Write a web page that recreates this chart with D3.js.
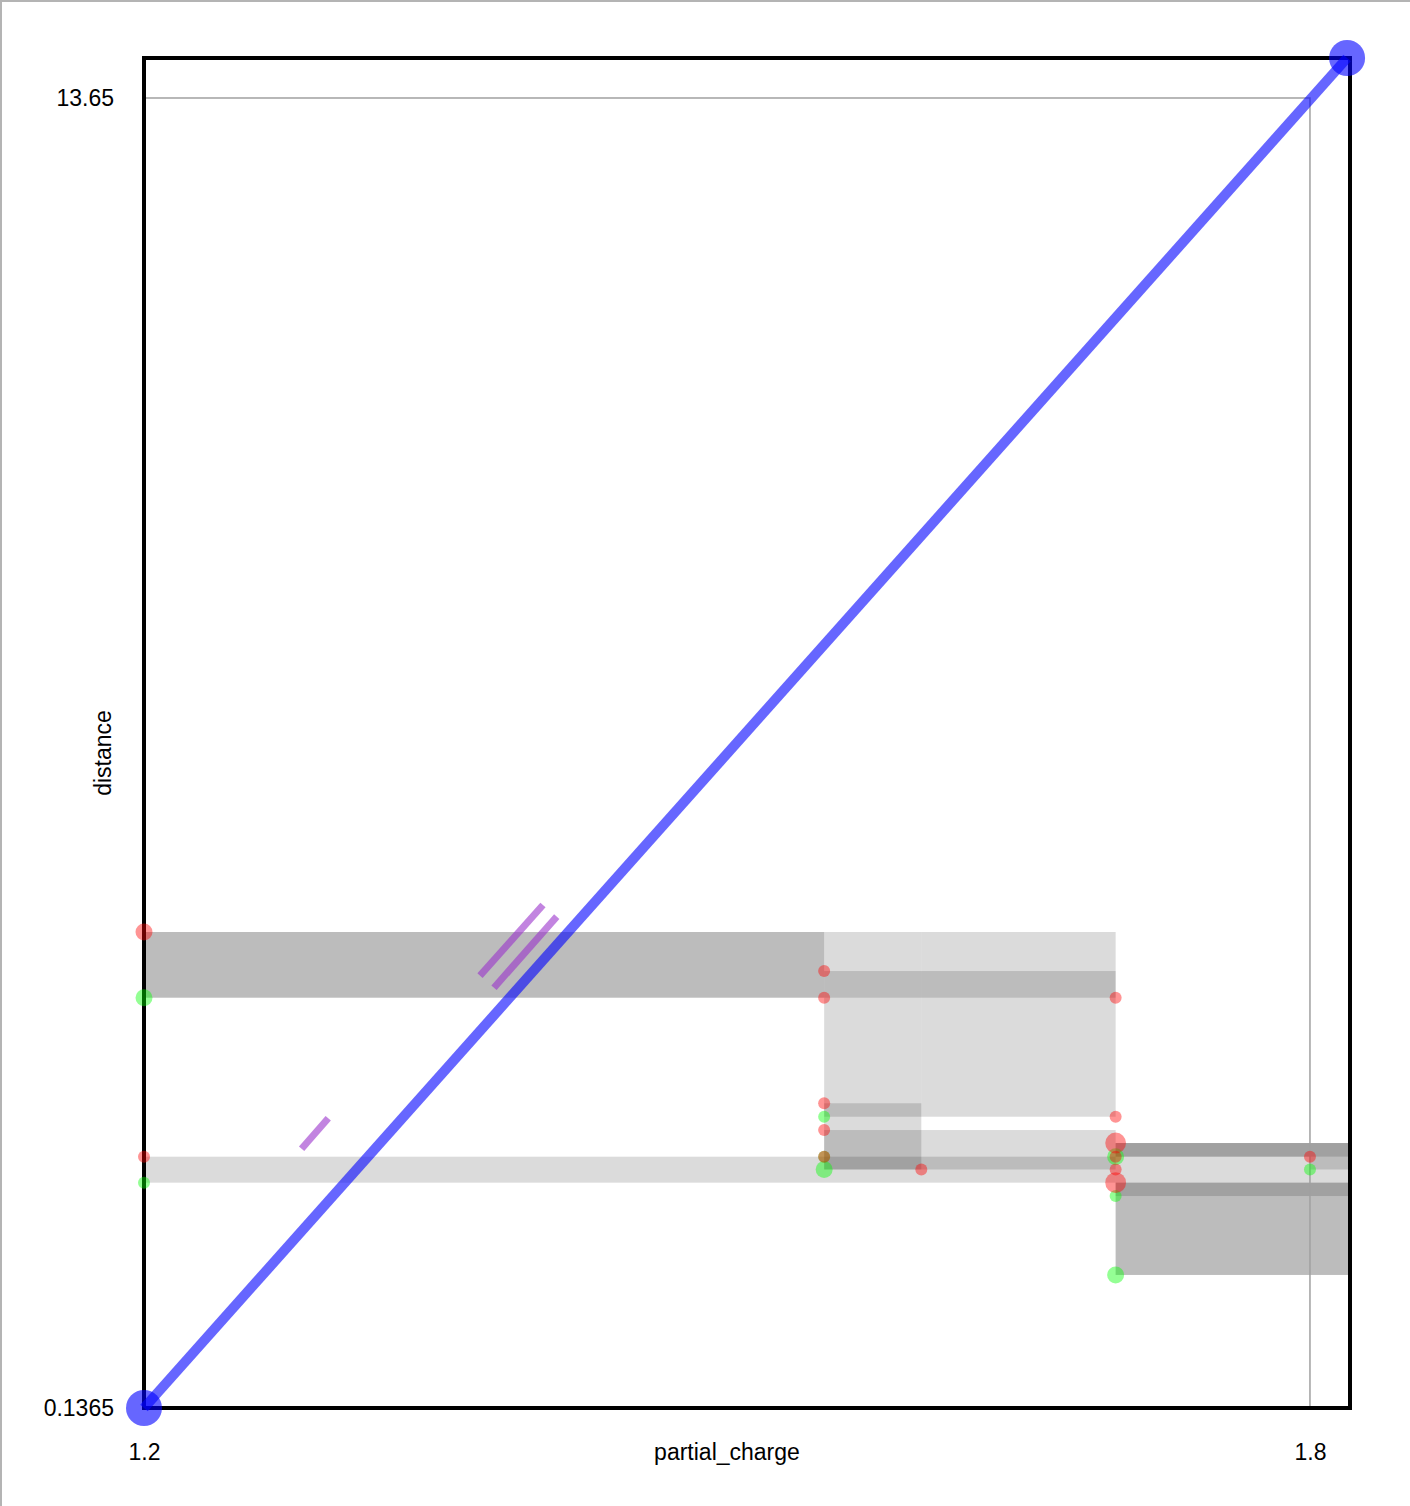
<!DOCTYPE html>
<html>
<head>
<meta charset="utf-8">
<script src="https://cdn.jsdelivr.net/npm/d3@7"></script>
<style>
  body { margin: 0; background: #fff; }
  svg { display: block; }
</style>
</head>
<body>
<svg id="chart" width="1410" height="1506"></svg>
<script>

// axis ticks (data extent) and view domain
let xTicks = [1.2, 1.8]
let yTicks = [0.1365, 13.65]
let xDomain = [1.2, 1.8206]
let yDomain = [0.1365, 14.0626]

// diagonal
let diagonal = [[1.2, 0.1365], [1.8191, 14.0626]]

// boxes: [x0, x1, yTop, yBottom]  (x1 = Infinity -> open to the right)
let boxes = [
    [1.2, 1.55, 5.047, 4.369],
    [1.2, 1.55, 5.047, 4.369],
    [1.55, 1.60, 5.047, 3.141],
    [1.60, 1.70, 5.047, 3.141],
    [1.55, 1.70, 4.644, 4.369],
    [1.55, 1.60, 3.280, 2.597],
    [1.55, 1.70, 3.004, 2.597],
    [1.2, 1.70, 2.729, 2.461],
    [1.70, Infinity, 2.870, 2.323],
    [1.70, Infinity, 2.870, 2.729],
    [1.70, Infinity, 2.870, 2.729],
    [1.70, Infinity, 2.461, 1.509],
    [1.70, Infinity, 2.461, 1.509],
    [1.80, Infinity, 2.729, 2.597]
]

// births (red): [x, y, count]
let births = [
    [1.2, 5.047, 2],
    [1.2, 2.729, 1],
    [1.55, 4.644, 1],
    [1.55, 4.369, 1],
    [1.55, 3.280, 1],
    [1.55, 3.004, 1],
    [1.55, 2.729, 1],
    [1.60, 2.597, 1],
    [1.70, 4.369, 1],
    [1.70, 3.141, 1],
    [1.70, 2.870, 3],
    [1.70, 2.729, 1],
    [1.70, 2.597, 1],
    [1.70, 2.461, 3],
    [1.80, 2.729, 1]
]

// deaths (green): [x, y, count]
let deaths = [
    [1.2, 4.369, 2],
    [1.2, 2.461, 1],
    [1.55, 3.141, 1],
    [1.55, 2.729, 1],
    [1.55, 2.597, 2],
    [1.70, 2.729, 2],
    [1.70, 2.323, 1],
    [1.70, 1.509, 2],
    [1.80, 2.597, 1]
]

// short segments parallel to the diagonal: [[x0,y0],[x1,y1]]
let segments = [
    [[1.3729, 4.596], [1.4053, 5.325]],
    [[1.3801, 4.472], [1.4124, 5.205]],
    [[1.2811, 2.811], [1.2948, 3.125]]
]

let margin = {left: 144, right: 60, top: 58, bottom: 98}
let width = 1410, height = 1506
let fontFamily = "'Liberation Sans', Arial, Helvetica, sans-serif"

let svg = d3.select('#chart')

// page edge (top + left)
svg.append('path')
    .attr('d', 'M1,1506 V1 H1410')
    .attr('fill', 'none')
    .attr('stroke', '#b4b4b4')
    .attr('stroke-width', 2)

let x = d3.scaleLinear()
    .domain(xDomain)
    .range([margin.left, width - margin.right])

let y = d3.scaleLinear()
    .domain(yDomain)
    .range([height - margin.bottom, margin.top])

let r = d3.scaleSqrt().domain([0, 1]).range([0, 6])

let cx = v => x(Math.min(v, xDomain[1]))

// boxes
svg.append('g')
    .selectAll('rect')
    .data(boxes)
    .join('rect')
        .attr('x', d => cx(d[0]))
        .attr('y', d => y(d[2]))
        .attr('width', d => cx(d[1]) - cx(d[0]))
        .attr('height', d => y(d[3]) - y(d[2]))
        .attr('fill', '#000')
        .attr('fill-opacity', 0.14)

// data extent outline
svg.append('rect')
    .attr('x', x(xTicks[0]))
    .attr('y', y(yTicks[1]))
    .attr('width', x(xTicks[1]) - x(xTicks[0]))
    .attr('height', y(yTicks[0]) - y(yTicks[1]))
    .attr('fill', 'none')
    .attr('stroke', '#a0a0a0')
    .attr('stroke-width', 1.5)

// frame
svg.append('rect')
    .attr('x', x(xDomain[0]))
    .attr('y', y(yDomain[1]))
    .attr('width', x(xDomain[1]) - x(xDomain[0]))
    .attr('height', y(yDomain[0]) - y(yDomain[1]))
    .attr('fill', 'none')
    .attr('stroke', '#000')
    .attr('stroke-width', 4)

// axes (labels only)
let xAxis = svg.append('g')
    .attr('transform', 'translate(0,' + y(yDomain[0]) + ')')
    .call(d3.axisBottom(x).tickValues(xTicks).tickSize(0).tickPadding(36).tickFormat(d => String(d)))
xAxis.select('.domain').remove()

let yAxis = svg.append('g')
    .attr('transform', 'translate(' + x(xDomain[0]) + ',0)')
    .call(d3.axisLeft(y).tickValues(yTicks).tickSize(0).tickPadding(30).tickFormat(d => String(d)))
yAxis.select('.domain').remove()

svg.selectAll('.tick text')
    .attr('font-size', 23)
    .attr('font-family', fontFamily)
    .attr('fill', '#000')

svg.append('text')
    .attr('x', (x(xTicks[0]) + x(xTicks[1])) / 2)
    .attr('y', y(yDomain[0]) + 52)
    .attr('text-anchor', 'middle')
    .attr('font-size', 23)
    .attr('font-family', fontFamily)
    .text('partial_charge')

svg.append('text')
    .attr('transform', 'translate(' + (x(xDomain[0]) - 33) + ',' + ((y(yTicks[0]) + y(yTicks[1])) / 2) + ') rotate(-90)')
    .attr('text-anchor', 'middle')
    .attr('font-size', 23)
    .attr('font-family', fontFamily)
    .text('distance')

// parallel segments
svg.append('g')
    .selectAll('line')
    .data(segments)
    .join('line')
        .attr('x1', d => x(d[0][0])).attr('y1', d => y(d[0][1]))
        .attr('x2', d => x(d[1][0])).attr('y2', d => y(d[1][1]))
        .attr('stroke', 'rgba(153,50,204,0.6)')
        .attr('stroke-width', 7)

// diagonal
svg.append('line')
    .attr('x1', x(diagonal[0][0])).attr('y1', y(diagonal[0][1]))
    .attr('x2', x(diagonal[1][0])).attr('y2', y(diagonal[1][1]))
    .attr('stroke', 'rgba(0,0,255,0.6)')
    .attr('stroke-width', 10)

svg.append('g')
    .selectAll('circle')
    .data(diagonal)
    .join('circle')
        .attr('cx', d => x(d[0]))
        .attr('cy', d => y(d[1]))
        .attr('r', 18)
        .attr('fill', 'rgba(0,0,255,0.6)')

// deaths then births
function drawPoints(data, col) {
    svg.append('g')
        .selectAll('circle')
        .data(data)
        .join('circle')
            .attr('cx', d => x(d[0]))
            .attr('cy', d => y(d[1]))
            .attr('r', d => r(d[2]))
            .attr('fill', col)
}
drawPoints(deaths, 'rgba(0,255,0,0.42)')
drawPoints(births, 'rgba(255,0,0,0.42)')

</script>
</body>
</html>
